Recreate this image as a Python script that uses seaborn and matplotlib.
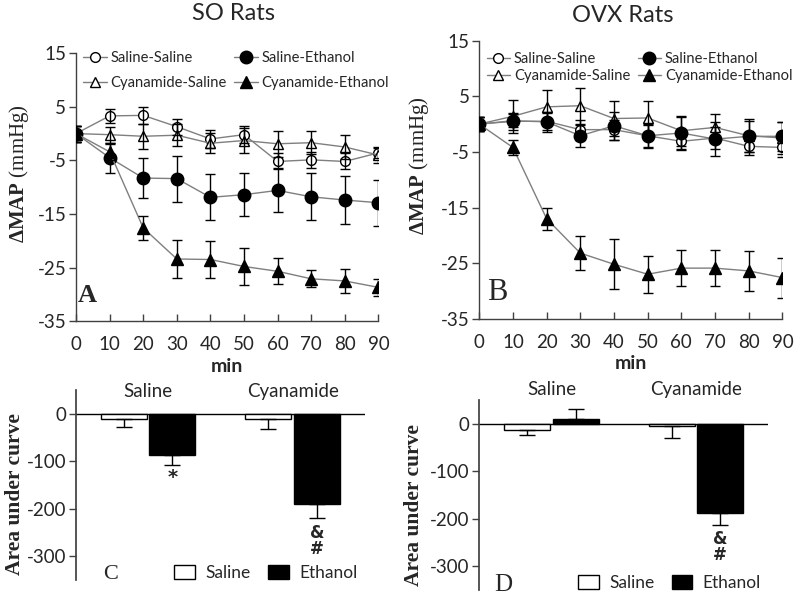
import numpy as np
import pandas as pd
import matplotlib
matplotlib.use("Agg")
import matplotlib.pyplot as plt
from matplotlib.lines import Line2D
from matplotlib.patches import Patch
import seaborn as sns

# ---- data ----
minutes = [0, 10, 20, 30, 40, 50, 60, 70, 80, 90]

# SO rats, change in MAP (mmHg), mean and SEM
so_sal_sal = [0, 3.3, 3.4, 1.3, -1.0, -0.2, -5.2, -4.9, -5.2, -3.6]
so_sal_sal_err = [1.5, 1.3, 1.6, 1.5, 1.6, 1.6, 1.5, 1.5, 1.5, 1.0]
so_sal_eth = [0, -4.5, -8.3, -8.4, -11.9, -11.4, -10.6, -11.8, -12.4, -12.9]
so_sal_eth_err = [1.5, 2.8, 3.8, 4.3, 4.3, 4.0, 4.1, 4.4, 4.4, 4.3]
so_cy_sal = [0, -0.2, -0.5, -0.3, -1.8, -1.3, -1.9, -1.7, -2.5, -4.0]
so_cy_sal_err = [1.5, 1.5, 2.3, 2.0, 1.9, 2.3, 2.4, 2.2, 2.2, 1.5]
so_cy_eth = [0, -3.4, -17.6, -23.4, -23.5, -24.8, -25.7, -27.1, -27.5, -28.7]
so_cy_eth_err = [1.5, 1.5, 2.3, 3.5, 3.5, 3.4, 2.4, 1.6, 2.3, 1.6]

# OVX rats
ovx_sal_sal = [0, 0.5, 0.5, -1.0, -1.0, -2.1, -3.1, -2.5, -4.0, -4.2]
ovx_sal_sal_err = [1.2, 1.5, 1.5, 1.8, 1.8, 2.0, 1.5, 2.0, 1.5, 1.8]
ovx_sal_eth = [0, 0.6, 0.4, -2.1, -0.3, -2.1, -1.6, -2.7, -2.2, -2.2]
ovx_sal_eth_err = [1.2, 1.2, 1.8, 2.0, 2.5, 2.2, 2.8, 3.1, 2.8, 2.6]
ovx_cy_sal = [0, 1.4, 3.1, 3.3, 1.0, 1.1, -1.2, -0.6, -2.1, -2.5]
ovx_cy_sal_err = [1.2, 3.0, 3.1, 3.2, 3.1, 3.0, 2.7, 2.5, 3.0, 2.8]
ovx_cy_eth = [0, -4.2, -17.0, -23.2, -25.2, -27.0, -25.9, -25.9, -26.4, -27.6]
ovx_cy_eth_err = [1.2, 1.3, 2.0, 3.0, 4.5, 3.3, 3.3, 3.2, 3.6, 3.6]

# area under curve
auc_groups = ["Saline", "Cyanamide"]
auc_treatments = ["Saline", "Ethanol"]
so_auc_saline = [-11, -12]
so_auc_saline_err = [16, 20]
so_auc_ethanol = [-87, -190]
so_auc_ethanol_err = [22, 30]
ovx_auc_saline = [-13, -5]
ovx_auc_saline_err = [11, 24]
ovx_auc_ethanol = [11, -187]
ovx_auc_ethanol_err = [21, 25]

series_labels = ["Saline-Saline", "Cyanamide-Saline", "Saline-Ethanol", "Cyanamide-Ethanol"]

SANS = ["Lato", "DejaVu Sans"]
SERIF = ["Liberation Serif", "DejaVu Serif"]
AXCOL = "#404040"

sns.set_theme(style="ticks")
plt.rcParams["font.family"] = SANS
plt.rcParams["axes.unicode_minus"] = False
plt.rcParams["mathtext.fontset"] = "custom"
plt.rcParams["mathtext.rm"] = "Liberation Serif"
plt.rcParams["mathtext.bf"] = "Liberation Serif:bold"

fig = plt.figure(figsize=(8, 5.98), dpi=100)
ax_a = fig.add_axes([0.095, 0.463, 0.378, 0.448])
ax_b = fig.add_axes([0.599, 0.467, 0.379, 0.465])
ax_c = fig.add_axes([0.095, 0.030, 0.361, 0.318])
ax_d = fig.add_axes([0.599, 0.013, 0.361, 0.318])

markers = {
    "Saline-Saline": dict(marker="o", mfc="white", ms=7),
    "Cyanamide-Saline": dict(marker="^", mfc="white", ms=7),
    "Saline-Ethanol": dict(marker="o", mfc="black", ms=9),
    "Cyanamide-Ethanol": dict(marker="^", mfc="black", ms=8),
}


def line_panel(ax, series, letter, letter_pos, letter_kw, leg_spacing, leg_anchor, ylab_x):
    for label, (vals, errs) in zip(series_labels, series):
        st = markers[label]
        sns.lineplot(x=minutes, y=vals, ax=ax, color="#7f7f7f", lw=1.0,
                     marker=st["marker"], markersize=st["ms"],
                     markerfacecolor=st["mfc"], markeredgecolor="black",
                     markeredgewidth=1.0, zorder=3)
        ax.errorbar(minutes, vals, yerr=errs, fmt="none", ecolor="black",
                    elinewidth=1.0, capsize=3.5, capthick=1.0, zorder=4)
    ax.set_xlim(0, 90)
    ax.set_ylim(-35, 15)
    ax.set_xticks(minutes)
    ax.set_yticks([15, 5, -5, -15, -25, -35])
    ax.tick_params(axis="x", direction="in", length=5, width=1, color=AXCOL,
                   labelsize=13.5, pad=11)
    ax.tick_params(axis="y", direction="out", length=5, width=1, color=AXCOL,
                   labelsize=13.5, pad=2)
    for s in ["top", "right"]:
        ax.spines[s].set_visible(False)
    for s in ["left", "bottom"]:
        ax.spines[s].set_color(AXCOL)
        ax.spines[s].set_linewidth(1.0)
    ax.set_xlabel("min", fontsize=14, fontweight="bold", labelpad=3)
    ax.set_ylabel(r"$\mathbf{ΔMAP}$ (mmHg)", fontsize=15, family=SERIF)
    ax.yaxis.set_label_coords(ylab_x, 0.55)
    ax.text(letter_pos[0], letter_pos[1], letter, transform=ax.transAxes,
            family=SERIF, ha="center", va="center", **letter_kw)
    handles = [Line2D([], [], color="#7f7f7f", lw=1.0, marker=markers[l]["marker"],
                      markersize=markers[l]["ms"], markerfacecolor=markers[l]["mfc"],
                      markeredgecolor="black") for l in series_labels]
    ax.legend(handles, series_labels, ncol=2, loc="upper left", bbox_to_anchor=leg_anchor,
              frameon=False, fontsize=10.6, handlelength=1.6, handletextpad=0.25,
              columnspacing=0.5, labelspacing=leg_spacing, borderaxespad=0)


line_panel(ax_a,
           [(so_sal_sal, so_sal_sal_err), (so_cy_sal, so_cy_sal_err),
            (so_sal_eth, so_sal_eth_err), (so_cy_eth, so_cy_eth_err)],
           "A", (0.036, 0.097), dict(fontsize=19, fontweight="bold"), 0.75, (0.005, 1.03), -0.15)
line_panel(ax_b,
           [(ovx_sal_sal, ovx_sal_sal_err), (ovx_cy_sal, ovx_cy_sal_err),
            (ovx_sal_eth, ovx_sal_eth_err), (ovx_cy_eth, ovx_cy_eth_err)],
           "B", (0.06, 0.094), dict(fontsize=22), 0.2, (0.005, 0.98), -0.16)

fig.text(234 / 800, 1 - 14 / 598, "SO Rats", ha="center", va="center", fontsize=17)
fig.text(623 / 800, 1 - 15 / 598, "OVX Rats", ha="center", va="center", fontsize=17)


def auc_panel(ax, sal, sal_err, eth, eth_err, letter, letter_pos, letter_size, marks,
              label_y, ylab_x):
    df = pd.DataFrame({
        "group": auc_groups * 2,
        "treatment": [auc_treatments[0]] * 2 + [auc_treatments[1]] * 2,
        "auc": sal + eth,
        "err": sal_err + eth_err,
    })
    sns.barplot(data=df, x="group", y="auc", hue="treatment", order=auc_groups,
                hue_order=auc_treatments, palette={"Saline": "white", "Ethanol": "black"},
                edgecolor="black", linewidth=1.0, width=0.67, gap=0.05,
                errorbar=None, legend=False, ax=ax)
    for cont, trt in zip(ax.containers, auc_treatments):
        sub = df[df["treatment"] == trt]
        for bar, (_, row) in zip(cont, sub.iterrows()):
            cx = bar.get_x() + bar.get_width() / 2
            lo = row["err"] if row["auc"] < 0 else 0
            hi = row["err"] if row["auc"] > 0 else 0
            ax.errorbar([cx], [row["auc"]], yerr=[[lo], [hi]], fmt="none", ecolor="black",
                        elinewidth=1.0, capsize=5.5, capthick=1.0)
            key = (row["group"], trt)
            if key in marks:
                txt, size, off = marks[key]
                ax.annotate(txt, (cx, row["auc"] - row["err"]), xytext=(0, off),
                            textcoords="offset points", ha="center", va="top",
                            fontsize=size, fontweight="bold", linespacing=0.85,
                            family=["DejaVu Sans"])
    ax.axhline(0, color="black", lw=1.0, zorder=0)
    ax.set_xlim(-0.5, 1.5)
    ax.set_ylim(-350, 50)
    ax.set_yticks([0, -100, -200, -300])
    ax.set_xticks([])
    ax.set_xlabel("")
    for i, g in enumerate(auc_groups):
        ax.text(i, label_y, g, ha="center", va="center", fontsize=13.5, clip_on=False)
    ax.tick_params(axis="y", direction="out", length=5, width=1, color=AXCOL,
                   labelsize=13.5, pad=2)
    for s in ["top", "right", "bottom"]:
        ax.spines[s].set_visible(False)
    ax.spines["left"].set_color(AXCOL)
    ax.set_ylabel("Area under curve", fontsize=15.5, family=SERIF, fontweight="bold")
    ax.yaxis.set_label_coords(ylab_x, 0.45)
    ax.text(letter_pos[0], letter_pos[1], letter, transform=ax.transAxes,
            family=SERIF, ha="center", va="center", fontsize=letter_size)
    handles = [Patch(facecolor="white", edgecolor="black", lw=1.0),
               Patch(facecolor="black", edgecolor="black", lw=1.0)]
    ax.legend(handles, auc_treatments, ncol=2, loc="lower right", bbox_to_anchor=(1.0, -0.04),
              frameon=False, fontsize=12.5, handlelength=1.2, handleheight=0.9,
              handletextpad=0.6, columnspacing=1.0, borderaxespad=0)


auc_panel(ax_c, so_auc_saline, so_auc_saline_err, so_auc_ethanol, so_auc_ethanol_err,
          "C", (0.118, 0.03), 16,
          {("Saline", "Ethanol"): ("*", 14, -2), ("Cyanamide", "Ethanol"): ("&\n#", 12, -4)},
          46, -0.176)
auc_panel(ax_d, ovx_auc_saline, ovx_auc_saline_err, ovx_auc_ethanol, ovx_auc_ethanol_err,
          "D", (0.083, 0.03), 18,
          {("Cyanamide", "Ethanol"): ("&\n#", 12, -4)}, 72, -0.19)

fig.savefig("out.png", dpi=100)
